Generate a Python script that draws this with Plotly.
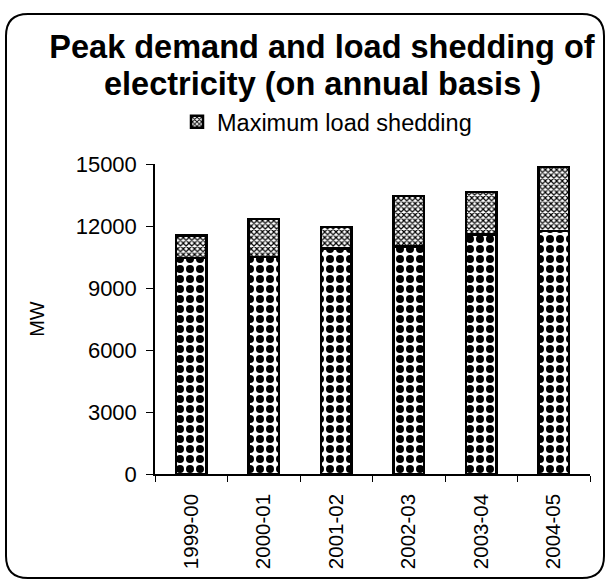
import plotly.graph_objects as go

years = ["1999-00", "2000-01", "2001-02", "2002-03", "2003-04", "2004-05"]
peak_met = [10450, 10500, 10900, 11000, 11600, 11750]
load_shedding = [1100, 1850, 1050, 2450, 2050, 3100]
y_ticks = [0, 3000, 6000, 9000, 12000, 15000]
title_lines = ["Peak demand and load shedding of", "electricity (on annual basis )"]

FONT = "Liberation Sans, Arial, sans-serif"

fig = go.Figure()
fig.add_trace(go.Bar(
    x=years, y=peak_met, name="Peak demand met", showlegend=False,
    marker=dict(color="white", line=dict(color="black", width=2.5),
                pattern=dict(shape=".", fgcolor="black", bgcolor="white",
                             size=10, solidity=0.5, fillmode="replace")),
))
fig.add_trace(go.Bar(
    x=years, y=load_shedding, name="Maximum load shedding",
    marker=dict(color="white", line=dict(color="black", width=2.5),
                pattern=dict(shape="x", fgcolor="black", bgcolor="white",
                             size=4, solidity=0.5, fillmode="replace")),
))

# rounded frame around whole figure (paper coords from pixel estimates)
L, R, T, B = 155, 590, 164, 474
def px(x):
    return (x - L) / (R - L)
def py(y):
    return (B - y) / (B - T)
x0, x1, y0, y1, r = 6, 604, 14, 578, 22
path = (f"M{px(x0+r)},{py(y0)} L{px(x1-r)},{py(y0)} Q{px(x1)},{py(y0)} {px(x1)},{py(y0+r)} "
        f"L{px(x1)},{py(y1-r)} Q{px(x1)},{py(y1)} {px(x1-r)},{py(y1)} "
        f"L{px(x0+r)},{py(y1)} Q{px(x0)},{py(y1)} {px(x0)},{py(y1-r)} "
        f"L{px(x0)},{py(y0+r)} Q{px(x0)},{py(y0)} {px(x0+r)},{py(y0)} Z")

fig.update_layout(
    width=609, height=580,
    margin=dict(l=L, r=609 - R, t=T, b=580 - B, autoexpand=False),
    paper_bgcolor="white", plot_bgcolor="white",
    barmode="stack", bargap=0.58,
    font=dict(family=FONT, color="black", size=22),
    title=dict(text="<b>" + title_lines[0] + "</b>",
               x=322 / 609, xanchor="center", y=1 - 47 / 580, yanchor="middle",
               font=dict(size=32.5, family=FONT, color="black")),
    annotations=[dict(text="<b>" + title_lines[1] + "</b>", xref="paper", yref="paper",
                      x=px(322), y=py(84), xanchor="center", yanchor="middle",
                      showarrow=False, font=dict(size=32.5, family=FONT, color="black"))],
    legend=dict(orientation="h", x=px(327), xanchor="center", y=py(122), yanchor="middle",
                font=dict(size=23.5), bgcolor="rgba(0,0,0,0)", itemwidth=30),
    shapes=[dict(type="path", xref="paper", yref="paper", path=path,
                 line=dict(color="black", width=2), layer="above")],
    xaxis=dict(type="category", showline=True, linecolor="black", linewidth=1.5,
               ticks="outside", tickson="boundaries", ticklen=6, tickcolor="black",
               tickangle=-90, showgrid=False, tickfont=dict(size=20.5),
               ticklabelstandoff=10),
    yaxis=dict(range=[0, 15000], tickvals=y_ticks, tickformat="d", showline=True,
               linecolor="black", linewidth=1.5, ticks="outside", ticklen=7,
               tickcolor="black", showgrid=False, zeroline=False, tickfont=dict(size=22),
               ticklabelstandoff=5,
               title=dict(text="MW", standoff=26, font=dict(size=20))),
)
fig.write_html("out.html", config={"displayModeBar": False},
               post_script="document.body.style.margin='0px';")
